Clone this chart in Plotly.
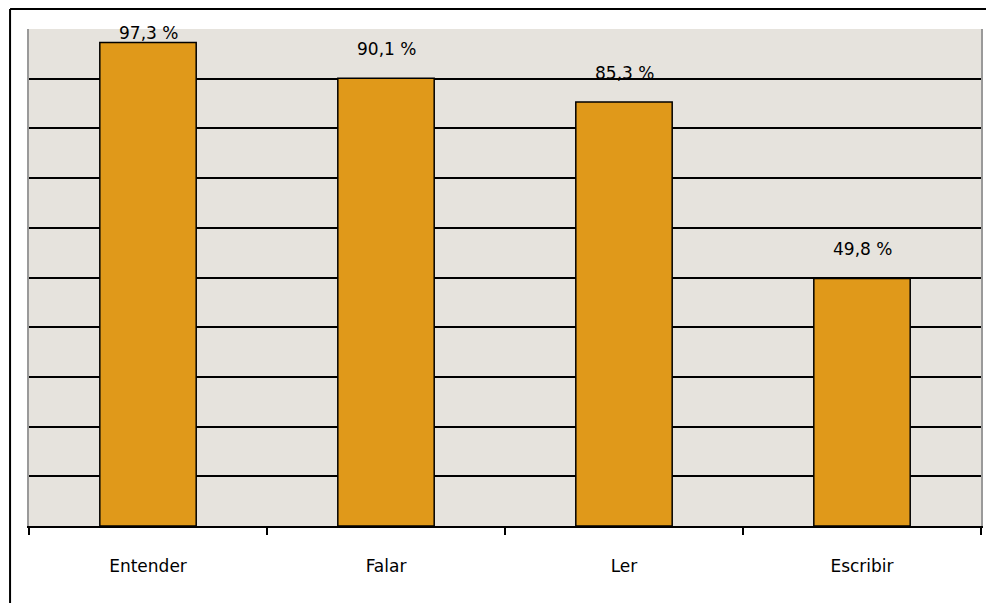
import plotly.graph_objects as go

# data
categories = ["Entender", "Falar", "Ler", "Escribir"]
values = [97.3, 90.1, 85.3, 49.8]
labels = ["97,3 %", "90,1 %", "85,3 %", "49,8 %"]

bar_color = "#E0991A"
bg_color = "#E6E3DD"
font = dict(family="DejaVu Sans", size=17, color="black")

fig = go.Figure()
fig.add_trace(go.Bar(
    x=categories, y=values, width=0.405,
    marker=dict(color=bar_color, line=dict(color="black", width=1.5)),
    hoverinfo="skip"
))

# value labels above the bars, kept inside the plot area
for c, v, t in zip(categories, values, labels):
    y = min(v, 93.3)
    fig.add_annotation(x=c, y=y, text=t, showarrow=False, font=font,
                       yanchor="middle", yshift=29)

# outer frame of the chart
fig.add_shape(type="line", xref="paper", yref="paper", x0=-0.0199, x1=1.1,
              y0=1.0402, y1=1.0402, line=dict(color="black", width=2))
fig.add_shape(type="line", xref="paper", yref="paper", x0=-0.0199, x1=-0.0199,
              y0=1.0402, y1=-0.2, line=dict(color="black", width=2))

fig.update_layout(
    width=986, height=603,
    margin=dict(l=29, r=3, t=29, b=77),
    paper_bgcolor="white", plot_bgcolor=bg_color,
    showlegend=False, font=font, bargap=0.6,
    xaxis=dict(type="category", tickson="boundaries", ticks="outside",
               ticklen=7, tickwidth=2, tickcolor="black",
               showline=True, linecolor="black", linewidth=2,
               showgrid=False, tickfont=font, ticklabelstandoff=24),
    yaxis=dict(range=[0, 100], dtick=10, showticklabels=False,
               showgrid=True, gridcolor="black", gridwidth=2,
               zeroline=False, showline=True, linecolor="#9A9A9A",
               linewidth=2, mirror=True, ticks=""),
)

# drop the default page margin so the figure fills the window exactly
fig.write_html("out.html", config={"displayModeBar": False},
               post_script="document.body.style.margin='0';"
                           "document.body.style.overflow='hidden';")
